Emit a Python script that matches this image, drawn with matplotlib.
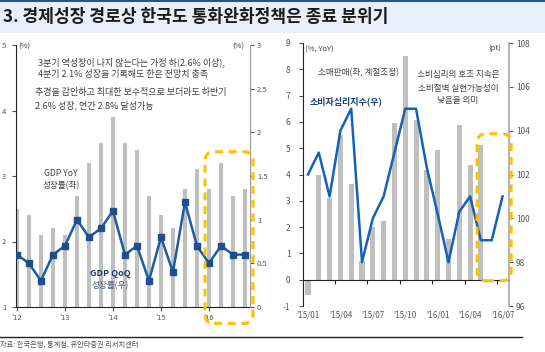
import numpy as np
import matplotlib
matplotlib.use("Agg")
import matplotlib.pyplot as plt
from matplotlib.patches import FancyBboxPatch, Rectangle
from matplotlib.lines import Line2D
from matplotlib.transforms import IdentityTransform

plt.rcParams['font.family'] = ['Noto Sans CJK KR', 'DejaVu Sans']
plt.rcParams['axes.unicode_minus'] = False

# ---------------- data: left chart (quarterly, 2012Q1 - 2016Q4) ----------------
gdp_yoy = [2.5, 2.4, 2.1, 2.2, 2.1, 2.7, 3.2, 3.5, 3.9, 3.5,
           3.4, 2.7, 2.4, 2.2, 2.8, 3.1, 2.8, 3.2, 2.7, 2.8]
gdp_qoq = [0.6, 0.5, 0.3, 0.6, 0.7, 1.0, 0.8, 0.9, 1.1, 0.6,
           0.7, 0.3, 0.8, 0.4, 1.2, 0.7, 0.5, 0.7, 0.6, 0.6]
left_xticks = [0, 4, 8, 12, 16]
left_xlabels = ["'12", "'13", "'14", "'15", "'16"]

# ---------------- data: right chart (monthly, 2015/01 - 2016/07) ----------------
retail = [-0.6, 4.0, 3.1, 5.5, 3.65, 0.7, 2.0, 2.25, 5.95, 8.5,
          6.08, 4.18, 4.92, 1.55, 5.87, 4.35, 5.13, np.nan, np.nan]
sentiment = [102, 103, 101, 104, 105, 98, 100, 101, 103, 105,
             105, 102.3, 100.2, 98, 100.3, 101, 99, 99, 101]
right_xticks = [0, 3, 6, 9, 12, 15, 18]
right_xlabels = ["'15/01", "'15/04", "'15/07", "'15/10", "'16/01", "'16/04", "'16/07"]

W, H = 545, 352
fig = plt.figure(figsize=(W / 100, H / 100), dpi=100)

def fx(x):
    return x / W

def fy(y):
    return 1 - y / H

# title band
fig.patches.append(Rectangle((0, fy(33)), 1, 33 / H, transform=fig.transFigure,
                             facecolor='#e7f0fa', edgecolor='none', zorder=0))
fig.lines.append(Line2D([0, 1], [fy(0.7), fy(0.7)], transform=fig.transFigure,
                        color='#1f4e8c', lw=1.4))
fig.text(fx(3), fy(17), "3. 경제성장 경로상 한국도 통화완화정책은 종료 분위기",
         fontsize=12.3, fontweight='bold', color='#1a1a1a', va='center', ha='left')

BAR = '#bfbfbf'
LINE = '#1a5ca6'
MARK = '#1f4e8c'
TXT = '#404040'
TICK = '#555555'

# ---------------- left chart ----------------
ax1 = fig.add_axes([fx(16), fy(307), (250 - 16) / W, (307 - 45) / H])
xq = np.arange(len(gdp_yoy))
ax1.bar(xq, gdp_yoy, width=0.38, color=BAR, zorder=1)
ax1.set_ylim(1, 5)
ax1.set_xlim(-0.08, 19.42)
ax1.set_yticks([1, 2, 3, 4, 5])
ax1.set_xticks(left_xticks)
ax1.set_xticklabels(left_xlabels)
ax1.tick_params(axis='both', labelsize=5.5, colors=TICK, length=3, width=0.8)
ax1.tick_params(axis='y', pad=4)
ax1.tick_params(axis='x', pad=2)
for s in ['top', 'right']:
    ax1.spines[s].set_visible(False)
ax1.spines['left'].set_color('#222222')
ax1.spines['bottom'].set_color('#222222')

ax1b = ax1.twinx()
ax1b.plot(xq, gdp_qoq, color=LINE, lw=1.8, marker='s', markersize=3.8,
          markerfacecolor=MARK, markeredgecolor=MARK, zorder=3)
ax1b.set_ylim(0, 3)
ax1b.set_yticks([0, 0.5, 1, 1.5, 2, 2.5, 3])
ax1b.set_yticklabels(['0', '0.5', '1', '1.5', '2', '2.5', '3'])
ax1b.tick_params(axis='y', labelsize=5.5, colors=TICK, length=3, width=0.8, pad=2)
for s in ['top', 'left', 'bottom']:
    ax1b.spines[s].set_visible(False)
ax1b.spines['right'].set_color('#999999')

fs = 6.5
fig.text(fx(18), fy(47), "(%)", fontsize=5.5, color=TXT, va='center')
fig.text(fx(244), fy(47), "(%)", fontsize=5.5, color=TXT, va='center', ha='right')
fig.text(fx(38), fy(62), "3분기 역성장이 나지 않는다는 가정 하(2.6% 이상),", fontsize=fs, color=TXT, va='center')
fig.text(fx(38), fy(75), "4분기 2.1% 성장을 기록해도 한은 전망치 충족", fontsize=fs, color=TXT, va='center')
fig.text(fx(35), fy(92), "추경을 감안하고 최대한 보수적으로 보더라도 하반기", fontsize=fs, color=TXT, va='center')
fig.text(fx(35), fy(105), "2.6% 성장, 연간 2.8% 달성가능", fontsize=fs, color=TXT, va='center')
fig.text(fx(61), fy(173), "GDP YoY", fontsize=6.2, color=TXT, va='center', ha='center')
fig.text(fx(61), fy(186), "성장률(좌)", fontsize=6.2, color=TXT, va='center', ha='center')
fig.text(fx(110), fy(273), "GDP QoQ", fontsize=6.5, color='#1f3f73', fontweight='bold',
         va='center', ha='center')
fig.text(fx(110), fy(286), "성장률(우)", fontsize=6.2, color='#4a5f80', va='center', ha='center')

# ---------------- right chart ----------------
ax2 = fig.add_axes([fx(303), fy(306), (509 - 303) / W, (306 - 43) / H])
xm = np.arange(len(retail))
ax2.bar(xm, retail, width=0.47, color=BAR, zorder=1)
ax2.set_ylim(-1, 9)
ax2.set_xlim(-0.46, 18.6)
ax2.set_yticks(range(-1, 10))
ax2.spines['bottom'].set_position(('data', 0))
ax2.spines['bottom'].set_color('#222222')
ax2.spines['left'].set_color('#222222')
for s in ['top', 'right']:
    ax2.spines[s].set_visible(False)
ax2.set_xticks(right_xticks)
ax2.set_xticklabels(right_xlabels)
ax2.set_xticks(np.arange(2.5, 18, 3), minor=True)
ax2.tick_params(axis='x', which='major', length=0, labelsize=5.8, colors=TICK, pad=22)
ax2.tick_params(axis='x', which='minor', length=3, width=0.8, color='#222222', direction='out')
ax2.tick_params(axis='y', labelsize=6, colors=TICK, length=3, width=0.8, pad=6)
ax2.get_yticklabels()[0].set_color('#e03030')

ax2b = ax2.twinx()
ax2b.plot(xm, sentiment, color='#1560b8', lw=1.8, zorder=3)
ax2b.set_ylim(96, 108)
ax2b.set_yticks(range(96, 109, 2))
ax2b.tick_params(axis='y', labelsize=6, colors=TICK, length=3, width=0.8, pad=2)
for s in ['top', 'left', 'bottom']:
    ax2b.spines[s].set_visible(False)
ax2b.spines['right'].set_color('#a6a6a6')
ax2b.spines['right'].set_linewidth(1.2)

fs2 = 6.2
fig.text(fx(305), fy(50), "(%, YoY)", fontsize=5.5, color=TXT, va='center')
fig.text(fx(501), fy(48), "(pt)", fontsize=5.5, color=TXT, va='center', ha='right')
fig.text(fx(318), fy(73), "소매판매(좌, 계절조정)", fontsize=fs2, color=TXT, va='center')
fig.text(fx(310), fy(101), "소비자심리지수(우)", fontsize=6.5, color='#1f3f73',
         fontweight='bold', va='center')
fig.text(fx(458), fy(74), "소비심리의 호조 지속은", fontsize=fs2, color=TXT, va='center', ha='center')
fig.text(fx(458), fy(88), "소비절벽 실현가능성이", fontsize=fs2, color=TXT, va='center', ha='center')
fig.text(fx(458), fy(101), "낮음을 의미", fontsize=fs2, color=TXT, va='center', ha='center')

# ---------------- dashed highlight boxes ----------------
def dashed_box(ax, x0, x1, y0, y1):
    (dx0, dy0) = ax.transData.transform((x0, y0))
    (dx1, dy1) = ax.transData.transform((x1, y1))
    box = FancyBboxPatch((dx0, dy0), dx1 - dx0, dy1 - dy0,
                         boxstyle="round,pad=0,rounding_size=9",
                         transform=IdentityTransform(), fill=False,
                         edgecolor='#ffc000', lw=2.2, linestyle=(0, (2.6, 1.9)),
                         zorder=5)
    fig.patches.append(box)

dashed_box(ax1, 15.67, 19.67, 0.75, 3.37)
dashed_box(ax2, 15.65, 18.8, -0.04, 5.55)

# ---------------- footer ----------------
fig.lines.append(Line2D([0, fx(522)], [fy(337), fy(337)], transform=fig.transFigure,
                        color='#222222', lw=1.0))
fig.text(fx(0), fy(345), "자료: 한국은행, 통계청, 유안타증권 리서치센터", fontsize=5.2,
         color='#555555', va='center', ha='left')

fig.savefig('out.png', dpi=100)
